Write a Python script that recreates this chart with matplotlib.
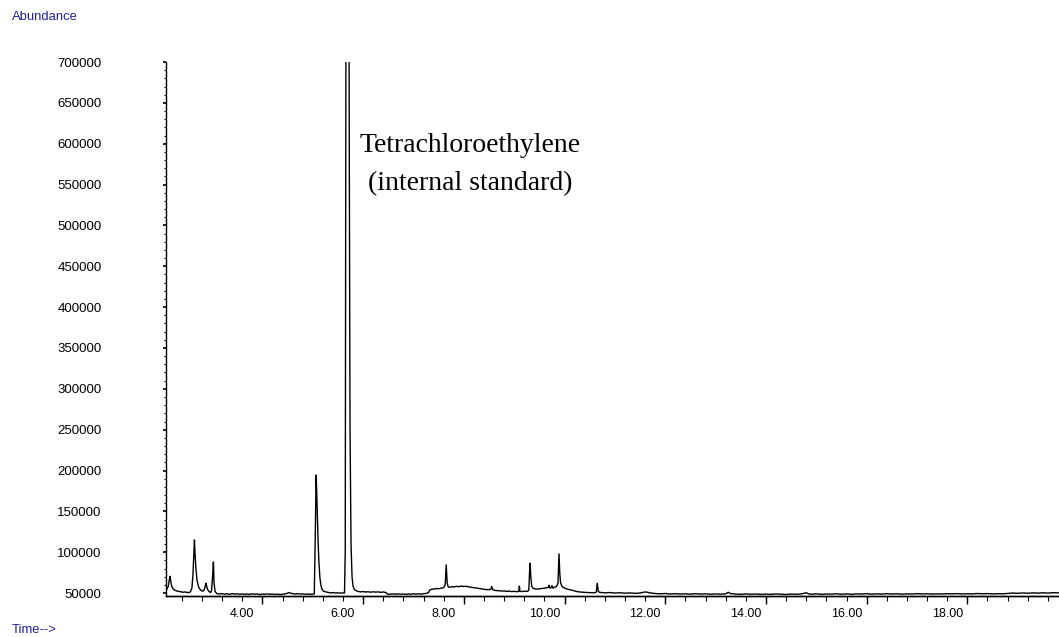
import matplotlib
matplotlib.use("Agg")
import matplotlib.pyplot as plt
from matplotlib.ticker import MultipleLocator, FixedLocator
import numpy as np

# retention time (min) / abundance, read segment by segment
rt_early = [2.48, 2.50, 2.53, 2.55, 2.567, 2.58, 2.60, 2.63, 2.66, 2.70, 2.74, 2.78,
            2.82, 2.86, 2.90, 2.94, 2.97, 3.00, 3.02, 3.04, 3.05, 3.06, 3.08, 3.10,
            3.13, 3.16, 3.20, 3.23, 3.25, 3.27, 3.28, 3.29, 3.31, 3.34, 3.37, 3.39,
            3.41, 3.427, 3.44, 3.46, 3.49, 3.53, 3.58]
ab_early = [56000, 54500, 58000, 66000, 70500, 64000, 58000, 55000, 53500, 52500, 52000, 51500,
            51000, 51300, 50800, 50500, 51500, 56000, 72000, 100000, 115000, 100000, 80000, 66000,
            58000, 54500, 52500, 52500, 55000, 60000, 62000, 59000, 54500, 52000, 50500, 53000,
            70000, 88000, 62000, 52000, 49500, 48800, 49200]

rt_mid = [3.65, 3.70, 3.75, 3.80, 3.85, 3.90, 3.95, 4.00, 4.05, 4.10, 4.15, 4.20,
          4.25, 4.30, 4.35, 4.40, 4.45, 4.50, 4.55, 4.60, 4.65, 4.70, 4.75, 4.80,
          4.85, 4.90, 4.93, 4.96, 5.00, 5.05, 5.10, 5.15, 5.20, 5.25, 5.30, 5.35,
          5.40, 5.43]
ab_mid = [48600, 49100, 48400, 49300, 48700, 49000, 48500, 48900, 48300, 48800, 48400, 49100,
          48600, 48900, 48200, 48700, 48500, 49000, 48400, 48800, 48300, 48600, 48100, 48500,
          48900, 49800, 50600, 49700, 49300, 48800, 49200, 48700, 49000, 48500, 48800, 48400,
          48600, 49000]

rt_istd = [5.45, 5.466, 5.48, 5.50, 5.52, 5.54, 5.56, 5.58, 5.61, 5.65, 5.70, 5.75,
           5.80, 5.85, 5.90, 5.95, 6.00, 6.03, 6.045, 6.06, 6.08, 6.09, 6.10, 6.115,
           6.125, 6.14, 6.16, 6.18, 6.20, 6.23, 6.27]
ab_istd = [120000, 194500, 170000, 125000, 90000, 70000, 60000, 55000, 52500, 51500, 50800, 50200,
           50500, 50000, 50300, 49800, 50200, 50000, 100000, 800000, 1800000, 2200000, 1700000, 900000,
           600000, 250000, 110000, 70000, 58000, 54000, 52500]

rt_late = [6.30, 6.35, 6.40, 6.45, 6.50, 6.55, 6.60, 6.65, 6.70, 6.75, 6.80, 6.85,
           6.88, 6.92, 7.00, 7.05, 7.10, 7.15, 7.20, 7.25, 7.30, 7.35, 7.40, 7.45,
           7.50, 7.55, 7.60, 7.65, 7.70, 7.72, 7.76, 7.80, 7.85, 7.90, 7.95, 8.00,
           8.03, 8.05, 8.07, 8.09, 8.12, 8.16, 8.20, 8.25, 8.30, 8.35, 8.40, 8.45,
           8.50, 8.55, 8.60, 8.65, 8.70, 8.75, 8.80, 8.85, 8.90, 8.94, 8.955, 8.97,
           9.00, 9.05, 9.10, 9.15, 9.20, 9.25, 9.30, 9.35, 9.40, 9.45, 9.49, 9.503,
           9.515, 9.55, 9.60, 9.65, 9.69, 9.705, 9.716, 9.73, 9.75, 9.78, 9.82, 9.86,
           9.90, 9.95, 10.00, 10.05, 10.08, 10.09, 10.11, 10.13, 10.15, 10.17, 10.20, 10.24,
           10.27, 10.29, 10.305, 10.32, 10.35, 10.40, 10.45, 10.50, 10.55, 10.60, 10.65, 10.70,
           10.75, 10.80, 10.85, 10.90, 10.95, 11.00, 11.03, 11.05, 11.07, 11.10]
ab_late = [52000, 51400, 51800, 51200, 51600, 51000, 51500, 51100, 51400, 50800, 51300, 50600,
           48800, 48400, 48900, 48500, 49000, 48600, 48800, 48300, 48900, 48500, 49100, 48700,
           49000, 48600, 49200, 49500, 50500, 53500, 54500, 54800, 55500, 55200, 56000, 56500,
           60000, 84500, 62000, 57500, 57000, 57800, 57400, 58200, 57800, 58500, 58000, 58300,
           57500, 57000, 56500, 56200, 55500, 55200, 54500, 54200, 54000, 55000, 58000, 54500,
           53500, 53000, 52800, 52400, 52600, 52000, 52300, 51800, 52100, 51600, 52000, 58500,
           52000, 51800, 52200, 52000, 53000, 75000, 86500, 70000, 58000, 55500, 55000, 54800,
           55200, 55500, 56000, 56500, 57000, 59500, 56000, 56500, 59000, 56000, 57000, 58000,
           62000, 98000, 75000, 63000, 58000, 56000, 55000, 54000, 53500, 52500, 51800, 51300,
           51000, 50800, 50600, 50500, 50400, 50300, 51000, 62000, 52000, 50800]

rt_tail = [11.15, 11.2, 11.3, 11.4, 11.5, 11.6, 11.7, 11.8, 11.9, 11.95, 12.0, 12.05,
           12.1, 12.2, 12.3, 12.4, 12.5, 12.6, 12.7, 12.8, 12.9, 13.0, 13.1, 13.2,
           13.3, 13.4, 13.5, 13.6, 13.65, 13.7, 13.8, 13.9, 14.0, 14.1, 14.2, 14.3,
           14.4, 14.5, 14.6, 14.7, 14.8, 14.9, 15.0, 15.1, 15.2, 15.25, 15.3, 15.4,
           15.5, 15.6, 15.7, 15.8, 15.9, 16.0, 16.1, 16.2, 16.3, 16.4, 16.5, 16.6,
           16.7, 16.8, 16.9, 17.0, 17.1, 17.2, 17.3, 17.4, 17.5, 17.6, 17.7, 17.8,
           17.9, 18.0, 18.1, 18.2, 18.3, 18.4, 18.5, 18.6, 18.7, 18.8, 18.9, 19.0,
           19.1, 19.2, 19.3, 19.4, 19.5, 19.6, 19.7, 19.8, 19.9, 20.0, 20.1, 20.25]
ab_tail = [50500, 50200, 50600, 50000, 50300, 49800, 50100, 49600, 50000, 50600, 51300, 50900,
           50100, 49400, 49000, 49400, 48800, 49200, 48700, 49100, 48600, 49200, 48700, 49000,
           48500, 48900, 48600, 49000, 50900, 49300, 48700, 48400, 48900, 48500, 48800, 48300,
           48700, 48400, 48900, 48500, 48200, 48700, 48500, 48800, 50300, 48900, 48500, 49000,
           48400, 48800, 48600, 49100, 48500, 48900, 48400, 49000, 48700, 49200, 48600, 49000,
           48700, 49200, 48800, 49100, 48600, 49000, 48700, 49200, 48800, 49100, 48700, 49000,
           48800, 49200, 48900, 49300, 48800, 49100, 48900, 49400, 49000, 49300, 48900, 49200,
           49000, 49500, 50000, 49600, 50100, 49700, 50200, 49800, 50300, 49900, 50400, 50100]

rt = np.concatenate([rt_early, rt_mid, rt_istd, rt_late, rt_tail])
abundance = np.concatenate([ab_early, ab_mid, ab_istd, ab_late, ab_tail])

time_labels = [4, 6, 8, 10, 12, 14, 16, 18]
abundance_ticks = list(range(50000, 700001, 50000))

plt.rcParams['font.family'] = ['Liberation Sans', 'DejaVu Sans']

fig = plt.figure(figsize=(10.59, 6.37), dpi=100)
ax = fig.add_axes([0.1565, 0.0643, 0.8435, 0.8388])

ax.plot(rt, abundance, color='black', lw=1.0)

ax.set_xlim(2.48, 20.22)
ax.set_ylim(46300, 700500)

for side in ['top', 'right']:
    ax.spines[side].set_visible(False)
ax.spines['left'].set_linewidth(1.0)
ax.spines['bottom'].set_linewidth(1.0)

# y axis: labelled every 50000, minor every 10000
ax.yaxis.set_major_locator(FixedLocator(abundance_ticks))
ax.set_yticklabels([str(v) for v in abundance_ticks])
ax.yaxis.set_minor_locator(MultipleLocator(10000))
ax.tick_params(axis='y', which='major', length=2.2, width=1.2, pad=44, labelsize=9.5)
ax.tick_params(axis='y', which='minor', length=1.2, width=0.8)

# x axis: labels on even minutes, short ticks every 0.4 min
ax.set_xticks(time_labels)
ax.set_xticklabels([f"{t:.2f}" for t in time_labels])
ax.xaxis.set_minor_locator(FixedLocator(np.arange(2.8, 20.2, 0.4)))
ax.tick_params(axis='x', which='major', length=3.6, width=0.8, pad=4.8, labelsize=9)
ax.tick_params(axis='x', which='minor', length=3.6, width=0.8)

# longer ticks every 2 min
sec = ax.secondary_xaxis('bottom')
sec.set_xticks(np.arange(4.4, 20.2, 2.0))
sec.set_xticklabels([])
sec.tick_params(axis='x', length=5.8, width=1.0)
sec.spines['bottom'].set_linewidth(1.0)

ax.text(8.53, 574500, "Tetrachloroethylene\n(internal standard)", family='Liberation Serif',
        fontsize=20, ha='center', va='center', multialignment='center', linespacing=1.65)

fig.text(12 / 1059, 1 - 17 / 637, "Abundance", color='#1f1f9e', fontsize=9.4, va='center', ha='left')
fig.text(12 / 1059, 1 - 630 / 637, "Time-->", color='#1f1f9e', fontsize=9.4, va='center', ha='left')

fig.savefig("out.png", dpi=100)
